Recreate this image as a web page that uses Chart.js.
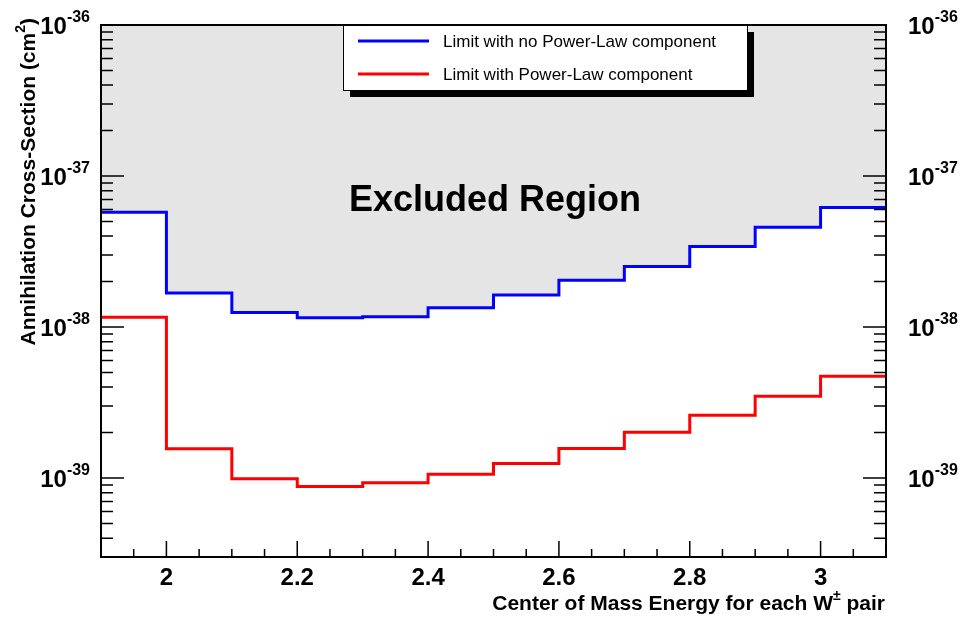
<!DOCTYPE html>
<html>
  <head>
    <meta charset="UTF-8" />
    <script src="https://cdn.jsdelivr.net/npm/chart.js"></script>
    <style>
      body { margin: 0; background: #fff; }
      canvas { display: block; }
    </style>
  </head>
  <body>
    <canvas id="limitChart" width="966" height="618"></canvas>
    <script>
      // bin low edges, the last bin closes at binUpperEdge
      const binLowEdges = [1.9, 2.0, 2.1, 2.2, 2.3, 2.4, 2.5, 2.6, 2.7, 2.8, 2.9, 3.0];
      const binUpperEdge = 3.1;
      const limitNoPowerLaw = [5.75e-38, 1.68e-38, 1.25e-38, 1.15e-38, 1.17e-38, 1.34e-38, 1.63e-38, 2.04e-38, 2.52e-38, 3.42e-38, 4.57e-38, 6.18e-38];
      const limitPowerLaw = [1.16e-38, 1.56e-39, 0.99e-39, 0.88e-39, 0.93e-39, 1.06e-39, 1.25e-39, 1.57e-39, 2.01e-39, 2.6e-39, 3.48e-39, 4.73e-39];
      const xTickValues = [2.0, 2.2, 2.4, 2.6, 2.8, 3.0];
      const xTickLabels = ["2", "2.2", "2.4", "2.6", "2.8", "3"];
      const yDecades = [-39, -38, -37, -36];
      const seriesNames = ["Limit with no Power-Law component", "Limit with Power-Law component"];

      const FONT = '"Liberation Sans", Arial, Helvetica, sans-serif';

      const toSteps = (vals) =>
        binLowEdges.map((x, i) => ({ x: x, y: vals[i] })).concat({ x: binUpperEdge, y: vals[vals.length - 1] });

      const rootFrame = {
        id: "rootFrame",
        afterDraw(chart) {
          const ctx = chart.ctx;
          const xs = chart.scales.x;
          const ys = chart.scales.y;
          const a = chart.chartArea;
          ctx.save();

          // frame
          ctx.strokeStyle = "#000";
          ctx.lineWidth = 2;
          ctx.strokeRect(a.left, a.top, a.right - a.left, a.bottom - a.top);

          // x ticks (inside, pointing up)
          ctx.lineWidth = 1.5;
          ctx.beginPath();
          for (let i = 0; i <= 24; i++) {
            const v = 1.9 + i * 0.05;
            const px = xs.getPixelForValue(v);
            const major = xTickValues.some((t) => Math.abs(t - v) < 1e-6);
            ctx.moveTo(px, a.bottom);
            ctx.lineTo(px, a.bottom - (major ? 16 : 8));
          }
          // y ticks on both sides
          for (let e = -41; e <= -36; e++) {
            for (let k = 1; k <= 9; k++) {
              const v = k * Math.pow(10, e);
              if (v < ys.min * 0.999 || v > ys.max * 1.001) continue;
              const py = ys.getPixelForValue(v);
              const len = k === 1 ? 23 : 12;
              ctx.moveTo(a.left, py);
              ctx.lineTo(a.left + len, py);
              ctx.moveTo(a.right, py);
              ctx.lineTo(a.right - len, py);
            }
          }
          ctx.stroke();

          // x tick labels
          ctx.fillStyle = "#000";
          ctx.font = "bold 24px " + FONT;
          ctx.textAlign = "center";
          ctx.textBaseline = "alphabetic";
          xTickValues.forEach((v, i) => {
            ctx.fillText(xTickLabels[i], xs.getPixelForValue(v), 585);
          });

          // y tick labels 10^n, left and right
          yDecades.forEach((e) => {
            const py = ys.getPixelForValue(Math.pow(10, e));
            const exp = String(e);
            ctx.font = "bold 24px " + FONT;
            const wBase = ctx.measureText("10").width;
            ctx.font = "bold 16px " + FONT;
            const wExp = ctx.measureText(exp).width;
            ctx.textAlign = "left";
            // left side, right aligned to x=90
            let x0 = 90 - wExp - wBase;
            ctx.font = "bold 24px " + FONT;
            ctx.fillText("10", x0, py + 9);
            ctx.font = "bold 16px " + FONT;
            ctx.fillText(exp, x0 + wBase, py - 3);
            // right side
            x0 = 908;
            ctx.font = "bold 24px " + FONT;
            ctx.fillText("10", x0, py + 9);
            ctx.font = "bold 16px " + FONT;
            ctx.fillText(exp, x0 + wBase, py - 3);
          });

          // x title, right aligned with the axis end
          const xTitleA = "Center of Mass Energy for each W";
          const xTitleB = " pair";
          ctx.font = "bold 21px " + FONT;
          const wA = ctx.measureText(xTitleA).width;
          const wB = ctx.measureText(xTitleB).width;
          ctx.font = "bold 14px " + FONT;
          const wPm = ctx.measureText("\u00b1").width;
          let tx = 885 - wA - wPm - wB;
          ctx.textAlign = "left";
          ctx.font = "bold 21px " + FONT;
          ctx.fillText(xTitleA, tx, 610);
          ctx.font = "bold 14px " + FONT;
          ctx.fillText("\u00b1", tx + wA, 600);
          ctx.font = "bold 21px " + FONT;
          ctx.fillText(xTitleB, tx + wA + wPm, 610);

          // y title, rotated, ending at the top of the axis
          ctx.save();
          ctx.translate(35, 0);
          ctx.rotate(-Math.PI / 2);
          const yA = "Annihilation Cross-Section (cm";
          ctx.font = "bold 21px " + FONT;
          const wyA = ctx.measureText(yA).width;
          const wyC = ctx.measureText(")").width;
          ctx.font = "bold 14px " + FONT;
          const wy2 = ctx.measureText("2").width;
          const yEnd = -18;
          let ty = yEnd - wyC - wy2 - wyA;
          ctx.font = "bold 21px " + FONT;
          ctx.fillText(yA, ty, 0);
          ctx.font = "bold 14px " + FONT;
          ctx.fillText("2", ty + wyA, -10);
          ctx.font = "bold 21px " + FONT;
          ctx.fillText(")", ty + wyA + wy2, 0);
          ctx.restore();

          // region label
          ctx.font = "bold 36px " + FONT;
          ctx.textAlign = "center";
          ctx.fillText("Excluded Region", 495, 211);

          // legend with shadow
          const lx = 343, ly = 25, lw = 404, lh = 65, sh = 7;
          ctx.fillStyle = "#000";
          ctx.fillRect(lx + sh, ly + sh, lw, lh);
          ctx.fillStyle = "#fff";
          ctx.fillRect(lx, ly, lw, lh);
          ctx.strokeStyle = "#000";
          ctx.lineWidth = 1;
          ctx.strokeRect(lx + 0.5, ly + 0.5, lw, lh);
          const colors = chart.data.datasets.map((d) => d.borderColor);
          const rows = [41, 74];
          ctx.font = "17px " + FONT;
          ctx.textAlign = "left";
          ctx.textBaseline = "middle";
          rows.forEach((ry, i) => {
            ctx.strokeStyle = colors[i];
            ctx.lineWidth = 3;
            ctx.beginPath();
            ctx.moveTo(358, ry);
            ctx.lineTo(429, ry);
            ctx.stroke();
            ctx.fillStyle = "#000";
            ctx.fillText(seriesNames[i], 443, ry + 1);
          });
          ctx.restore();
        },
      };

      new Chart(document.getElementById("limitChart"), {
        type: "line",
        data: {
          datasets: [
            {
              label: seriesNames[0],
              data: toSteps(limitNoPowerLaw),
              stepped: "before",
              borderColor: "#0000ff",
              borderWidth: 3,
              backgroundColor: "#e5e5e5",
              fill: "end",
              pointRadius: 0,
              borderCapStyle: "butt",
              borderJoinStyle: "miter",
            },
            {
              label: seriesNames[1],
              data: toSteps(limitPowerLaw),
              stepped: "before",
              borderColor: "#ff0000",
              borderWidth: 3,
              fill: false,
              pointRadius: 0,
              borderCapStyle: "butt",
              borderJoinStyle: "miter",
            },
          ],
        },
        options: {
          responsive: false,
          animation: false,
          layout: { padding: { left: 101, right: 80, top: 25, bottom: 61 } },
          scales: {
            x: { type: "linear", min: 1.9, max: 3.1, display: false },
            y: { type: "logarithmic", min: 3e-40, max: 1e-36, display: false },
          },
          plugins: { legend: { display: false }, tooltip: { enabled: false } },
        },
        plugins: [rootFrame],
      });
    </script>
  </body>
</html>
